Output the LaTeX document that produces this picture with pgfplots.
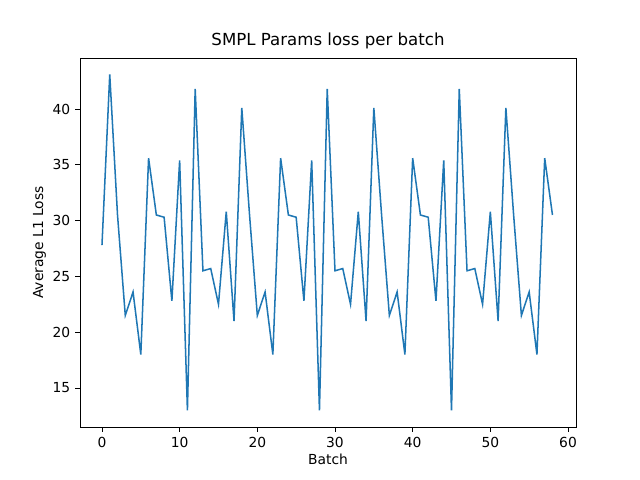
\documentclass[border=0pt]{standalone}
\usepackage{pgfplots}
\pgfplotsset{compat=1.18}
\usepackage{fontspec}
\setmainfont{DejaVu Sans}
\begin{document}
\begin{tikzpicture}
\path[use as bounding box] (-0.8in,-0.53in) rectangle (5.6in,4.27in);
\begin{axis}[
  at={(0,0)}, anchor=south west,
  scale only axis, width=4.96in, height=3.69in,
  xmin=-2.83, xmax=61.03, ymin=11.5, ymax=44.57,
  xtick={0,10,20,30,40,50,60}, ytick={15,20,25,30,35,40},
  xtick pos=bottom, ytick pos=left,
  tick align=outside, tick style={black, line width=0.6pt},
  major tick length=3.5pt,
  ticklabel style={font=\fontsize{10}{12}\selectfont},
  /pgf/number format/assume math mode=true,
  xlabel={Batch}, ylabel={Average L1 Loss},
  label style={font=\fontsize{10}{12}\selectfont},
  xlabel style={yshift=2pt}, ylabel style={yshift=-2pt},
  title={SMPL Params loss per batch},
  title style={font=\fontsize{12}{14}\selectfont, yshift=-3pt},
  axis line style={line width=0.6pt},
]
\addplot[color={rgb,255:red,31;green,119;blue,180}, line width=1.1pt, mark=none] coordinates {
(0,27.8)(1,43.1)(2,30.5)
(3,21.5)(4,23.6)(5,18)(6,35.6)(7,30.5)(8,30.3)(9,22.8)(10,35.4)(11,13)(12,41.8)(13,25.5)(14,25.7)(15,22.5)(16,30.8)(17,21)(18,40.1)(19,30.5)
(20,21.5)(21,23.6)(22,18)(23,35.6)(24,30.5)(25,30.3)(26,22.8)(27,35.4)(28,13)(29,41.8)(30,25.5)(31,25.7)(32,22.5)(33,30.8)(34,21)(35,40.1)(36,30.5)
(37,21.5)(38,23.6)(39,18)(40,35.6)(41,30.5)(42,30.3)(43,22.8)(44,35.4)(45,13)(46,41.8)(47,25.5)(48,25.7)(49,22.5)(50,30.8)(51,21)(52,40.1)(53,30.5)
(54,21.5)(55,23.6)(56,18)(57,35.6)(58,30.5)
};
\end{axis}
\end{tikzpicture}
\end{document}
